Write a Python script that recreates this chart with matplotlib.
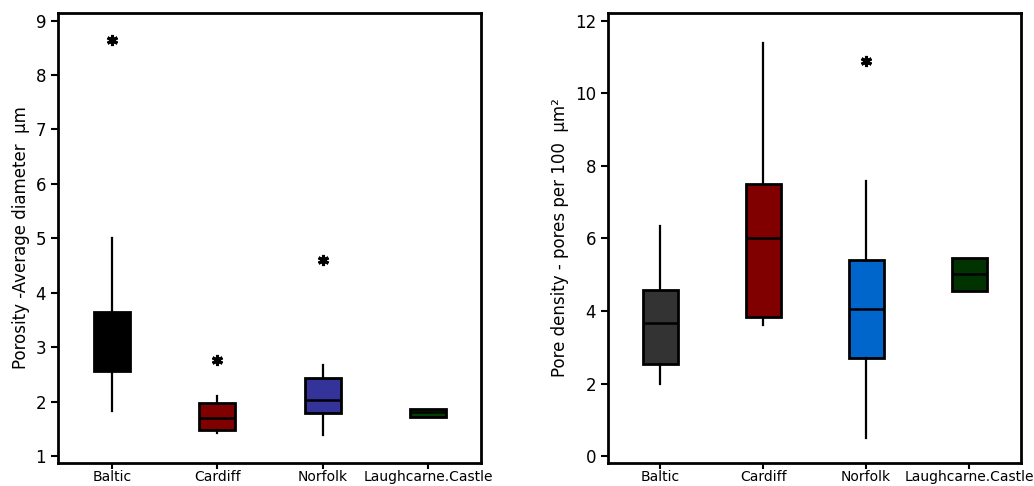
import matplotlib
matplotlib.use("Agg")
import matplotlib.pyplot as plt

sites = ["Baltic", "Cardiff", "Norfolk", "Laughcarne.Castle"]

# porosity - average pore diameter (um)
dia_q1 = [2.57, 1.48, 1.78, 1.71]
dia_med = [3.00, 1.69, 2.02, 1.80]
dia_q3 = [3.64, 1.98, 2.44, 1.87]
dia_lo = [1.83, 1.42, 1.39, 1.71]
dia_hi = [5.01, 2.11, 2.68, 1.87]
dia_out = [[8.64], [2.76], [4.60], []]
dia_colors = ["#000000", "#800000", "#333399", "#004000"]

# pore density - pores per 100 um^2
den_q1 = [2.54, 3.84, 2.70, 4.55]
den_med = [3.67, 6.02, 4.05, 5.01]
den_q3 = [4.57, 7.50, 5.41, 5.47]
den_lo = [1.99, 3.61, 0.51, 4.55]
den_hi = [6.35, 11.37, 7.59, 5.47]
den_out = [[], [], [10.89], []]
den_colors = ["#333333", "#800000", "#0066cc", "#003300"]

plt.rcParams['font.family'] = ['DejaVu Sans']


def make_stats(q1, med, q3, lo, hi, out):
    stats = []
    for i in range(len(q1)):
        stats.append({"q1": q1[i], "med": med[i], "q3": q3[i],
                      "whislo": lo[i], "whishi": hi[i], "fliers": out[i]})
    return stats


def draw_box(ax, stats, colors, ylabel, ylim, yticks):
    bp = ax.bxp(stats, positions=range(1, len(stats) + 1), widths=0.34,
                patch_artist=True, showcaps=False,
                boxprops=dict(linewidth=2, edgecolor="black"),
                medianprops=dict(color="black", linewidth=1.8),
                whiskerprops=dict(color="black", linewidth=1.6),
                flierprops=dict(marker=(6, 2, 0), markersize=8,
                                markeredgewidth=2.2, markeredgecolor="black",
                                markerfacecolor="black", linestyle="none"))
    for patch, c in zip(bp["boxes"], colors):
        patch.set_facecolor(c)
    ax.set_xlim(0.49, 4.5)
    ax.set_ylim(*ylim)
    ax.set_yticks(yticks)
    ax.set_xticks(range(1, len(sites) + 1))
    ax.set_xticklabels(sites, fontsize=10)
    ax.tick_params(axis="y", labelsize=12, width=1.5, length=5)
    ax.tick_params(axis="x", width=1.5, length=4, pad=1)
    ax.set_ylabel(ylabel, fontsize=12)
    for s in ax.spines.values():
        s.set_linewidth(2)


fig = plt.figure(figsize=(10.34, 4.86), dpi=100)
ax1 = fig.add_axes([0.0561, 0.0473, 0.4091, 0.926])
ax2 = fig.add_axes([0.5877, 0.0473, 0.3994, 0.926])

draw_box(ax1, make_stats(dia_q1, dia_med, dia_q3, dia_lo, dia_hi, dia_out),
         dia_colors, "Porosity -Average diameter  μm", (0.87, 9.14),
         range(1, 10))
draw_box(ax2, make_stats(den_q1, den_med, den_q3, den_lo, den_hi, den_out),
         den_colors, "Pore density - pores per 100  μm²", (-0.19, 12.21),
         range(0, 13, 2))

fig.savefig("out.png", dpi=100)
